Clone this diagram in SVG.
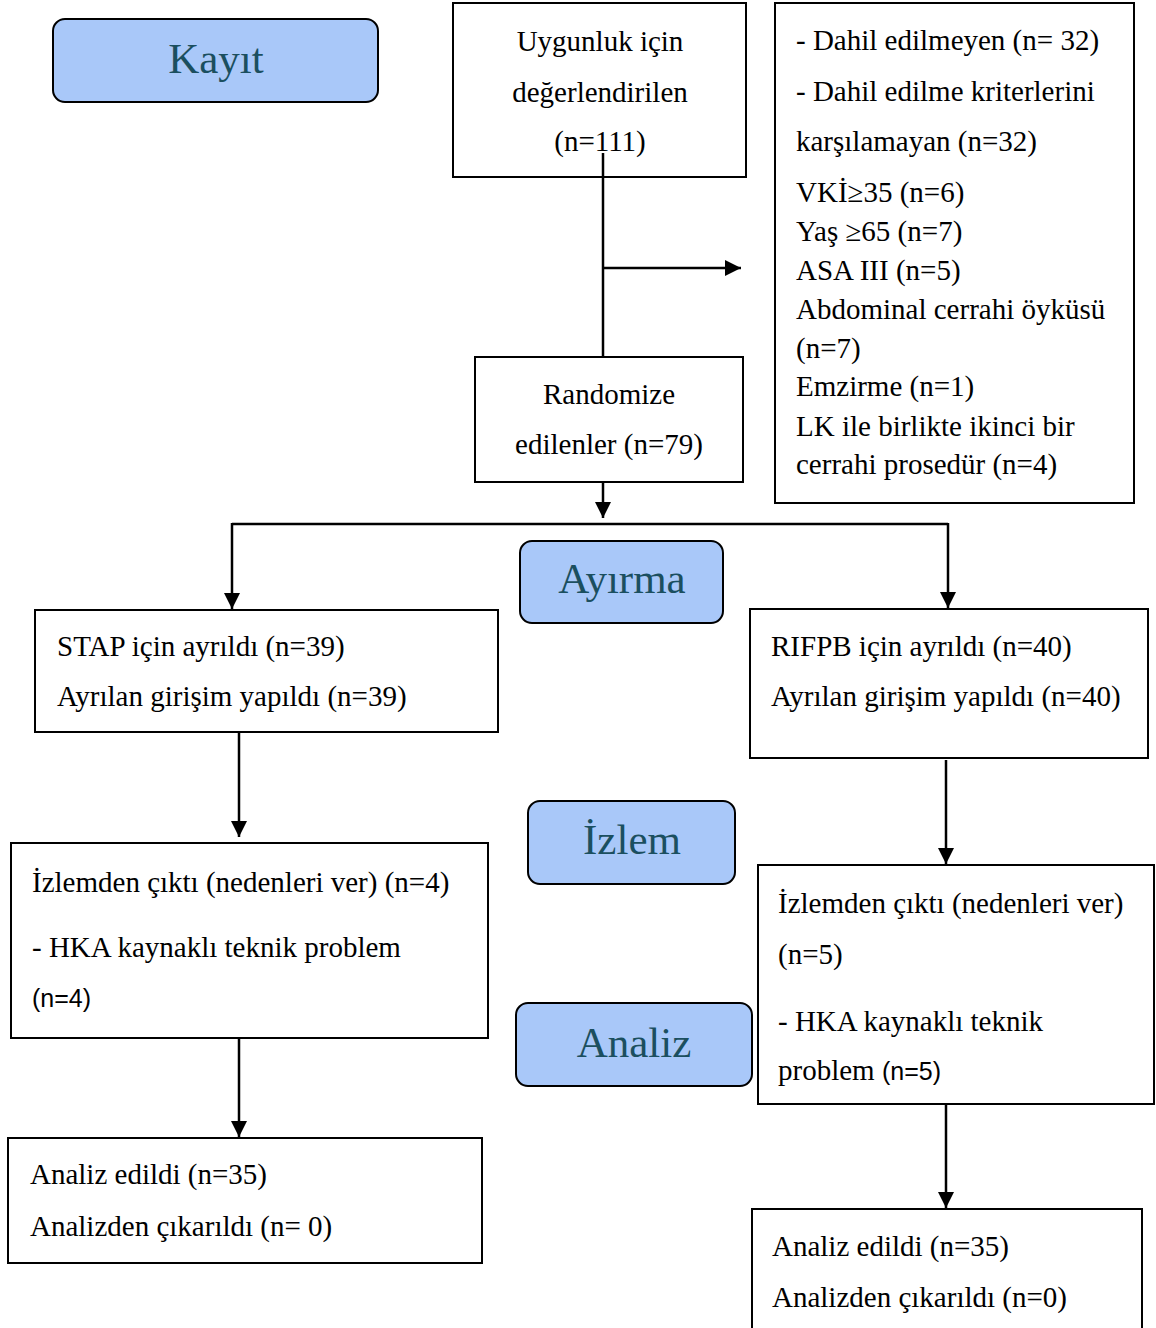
<svg xmlns="http://www.w3.org/2000/svg" width="1156" height="1328" viewBox="0 0 1156 1328">
<style>
.box{fill:#fff;stroke:#000;stroke-width:2}
.stage{fill:#a9c8f9;stroke:#000;stroke-width:2}
.t{font-family:"Liberation Serif","Times New Roman",serif;font-size:29px;fill:#000}
.c{text-anchor:middle}
.s{font-family:"Liberation Sans",Arial,sans-serif;font-size:25px}
.st{font-family:"Liberation Serif","Times New Roman",serif;font-size:43px;fill:#1b4f5f;text-anchor:middle}
.ln{fill:none;stroke:#000;stroke-width:2.5}
</style>
<defs>
<marker id="ah" viewBox="0 0 10 10" refX="10" refY="5" markerWidth="7" markerHeight="6.4" markerUnits="strokeWidth" orient="auto">
<path d="M0,0 L10,5 L0,10 z" fill="#000"/>
</marker>
</defs>
<rect width="1156" height="1328" fill="#fff"/>

<g id="stage-kayit">
<rect class="stage" x="53" y="19" width="325" height="83" rx="12"/>
<text class="st" x="216" y="73">Kayıt</text>
</g>
<g id="stage-ayirma">
<rect class="stage" x="520" y="541" width="203" height="82" rx="12"/>
<text class="st" x="622" y="593">Ayırma</text>
</g>
<g id="stage-izlem">
<rect class="stage" x="528" y="801" width="207" height="83" rx="12"/>
<text class="st" x="632" y="854">İzlem</text>
</g>
<g id="stage-analiz">
<rect class="stage" x="516" y="1003" width="236" height="83" rx="12"/>
<text class="st" x="634" y="1057">Analiz</text>
</g>

<g id="n-uygunluk">
<rect class="box" x="453" y="3" width="293" height="174"/>
<text class="t c" x="600" y="51">Uygunluk için</text>
<text class="t c" x="600" y="102">değerlendirilen</text>
<text class="t c" x="600" y="151">(n=111)</text>
</g>

<g id="n-exclusion">
<rect class="box" x="775" y="3" width="359" height="500"/>
<text class="t" x="796" y="50">- Dahil edilmeyen (n= 32)</text>
<text class="t" x="796" y="101">- Dahil edilme kriterlerini</text>
<text class="t" x="796" y="151">karşılamayan (n=32)</text>
<text class="t" x="796" y="202">VKİ≥35 (n=6)</text>
<text class="t" x="796" y="241">Yaş ≥65 (n=7)</text>
<text class="t" x="796" y="280">ASA III (n=5)</text>
<text class="t" x="796" y="319">Abdominal cerrahi öyküsü</text>
<text class="t" x="796" y="358">(n=7)</text>
<text class="t" x="796" y="396">Emzirme (n=1)</text>
<text class="t" x="796" y="436">LK ile birlikte ikinci bir</text>
<text class="t" x="796" y="474">cerrahi prosedür (n=4)</text>
</g>

<g id="n-randomize">
<rect class="box" x="475" y="357" width="268" height="125"/>
<text class="t c" x="609" y="404">Randomize</text>
<text class="t c" x="609" y="454">edilenler (n=79)</text>
</g>

<g id="n-stap">
<rect class="box" x="35" y="610" width="463" height="122"/>
<text class="t" x="57" y="656">STAP için ayrıldı (n=39)</text>
<text class="t" x="57" y="706">Ayrılan girişim yapıldı (n=39)</text>
</g>

<g id="n-rifpb">
<rect class="box" x="750" y="609" width="398" height="149"/>
<text class="t" x="771" y="656">RIFPB için ayrıldı (n=40)</text>
<text class="t" x="771" y="706">Ayrılan girişim yapıldı (n=40)</text>
</g>

<g id="n-izlem-left">
<rect class="box" x="11" y="843" width="477" height="195"/>
<text class="t" x="32" y="892">İzlemden çıktı (nedenleri ver) (n=4)</text>
<text class="t" x="32" y="957">- HKA kaynaklı teknik problem</text>
<text class="s" x="32" y="1007">(n=4)</text>
</g>

<g id="n-izlem-right">
<rect class="box" x="758" y="865" width="396" height="239"/>
<text class="t" x="778" y="913">İzlemden çıktı (nedenleri ver)</text>
<text class="t" x="778" y="964">(n=5)</text>
<text class="t" x="778" y="1031">- HKA kaynaklı teknik</text>
<text class="t" x="778" y="1080">problem <tspan class="s">(n=5)</tspan></text>
</g>

<g id="n-analiz-left">
<rect class="box" x="8" y="1138" width="474" height="125"/>
<text class="t" x="30" y="1184">Analiz edildi (n=35)</text>
<text class="t" x="30" y="1236">Analizden çıkarıldı (n= 0)</text>
</g>

<g id="n-analiz-right">
<rect class="box" x="752" y="1209" width="390" height="130"/>
<text class="t" x="772" y="1256">Analiz edildi (n=35)</text>
<text class="t" x="772" y="1307">Analizden çıkarıldı (n=0)</text>
</g>

<g id="connectors">
<line class="ln" x1="603" y1="153" x2="603" y2="357"/>
<line class="ln" x1="603" y1="268" x2="741" y2="268" marker-end="url(#ah)"/>
<line class="ln" x1="603" y1="482" x2="603" y2="518" marker-end="url(#ah)"/>
<path class="ln" d="M232,524 H948"/>
<line class="ln" x1="232" y1="523" x2="232" y2="609" marker-end="url(#ah)"/>
<line class="ln" x1="948" y1="523" x2="948" y2="608" marker-end="url(#ah)"/>
<line class="ln" x1="239" y1="732" x2="239" y2="837" marker-end="url(#ah)"/>
<line class="ln" x1="239" y1="1038" x2="239" y2="1137" marker-end="url(#ah)"/>
<line class="ln" x1="946" y1="760" x2="946" y2="864" marker-end="url(#ah)"/>
<line class="ln" x1="946" y1="1104" x2="946" y2="1208" marker-end="url(#ah)"/>
</g>
</svg>
